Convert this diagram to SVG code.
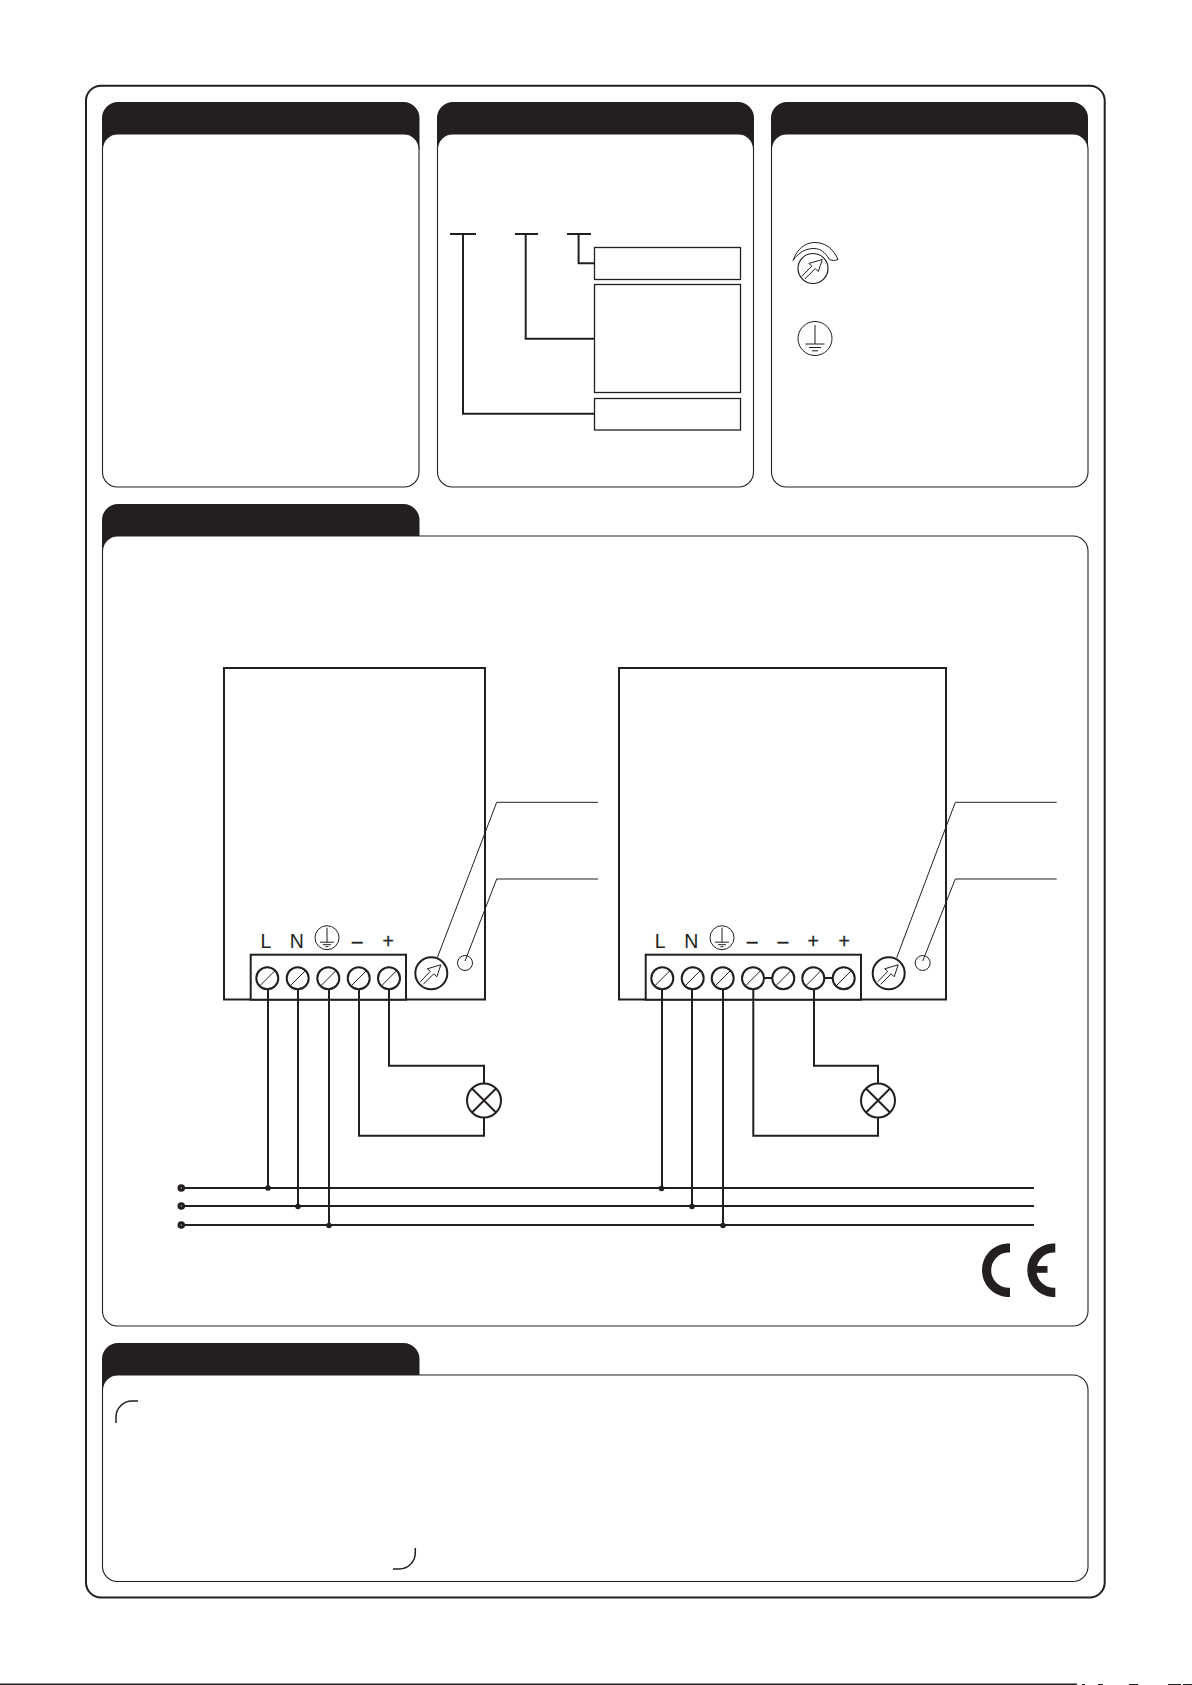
<svg xmlns="http://www.w3.org/2000/svg" xmlns:xlink="http://www.w3.org/1999/xlink" width="1192" height="1685" viewBox="0 0 1192 1685">
<style>
.ink{fill:#231f20}
.panel{fill:#fff;stroke:#231f20;stroke-width:1.100}
.w2{fill:none;stroke:#231f20;stroke-width:2}
.w1{fill:none;stroke:#231f20;stroke-width:1}
.w15{fill:none;stroke:#231f20;stroke-width:1.5}
.box{fill:#fff;stroke:#231f20;stroke-width:1.300}
.dev{fill:#fff;stroke:#231f20;stroke-width:2}
.lbl{font-family:"Liberation Sans",Arial,sans-serif;font-size:19.5px;fill:#231f20;text-anchor:middle}
.sign{stroke:#231f20;stroke-width:.3}
</style>
<defs>
<g id="screw"><circle r="11" class="dev"/><path d="M-7.500 7.500L7.500-7.500" class="w1"/></g>
<g id="arrow"><path d="M-11 8.500L-1-2L-4-4.500L9.500-8.500L5.500 3.500L2.500 .5L-8 11" class="w1"/></g>
<g id="dial"><circle r="16" class="dev"/><use xlink:href="#arrow" href="#arrow"/></g>
<g id="earth"><circle r="12" fill="#fff" stroke="#231f20" stroke-width="1"/><path d="M0-10V4.500M-7 4.500H7M-4 7H4M-1.500 9H1.500" class="w1"/></g>
<g id="lamp"><circle r="17" class="dev"/><path d="M-12-12L12 12M-12 12L12-12" class="w2"/></g>
</defs>
<g id="frame"><rect x="86" y="85.700" width="1018.700" height="1511.800" rx="15" fill="#fff" stroke="#231f20" stroke-width="2"/></g>
<g id="panel-1"><path d="M102 150V118a16 16 0 0 1 16-16H403.500a16 16 0 0 1 16 16V150Z" class="ink"/><rect x="102.500" y="134" width="316.500" height="353" rx="15" class="panel"/></g>
<g id="panel-2"><path d="M437 150V118a16 16 0 0 1 16-16H738a16 16 0 0 1 16 16V150Z" class="ink"/><rect x="437.500" y="134" width="316" height="353" rx="15" class="panel"/>
<rect id="box-a" x="594.500" y="247.500" width="146" height="32" class="box"/><rect id="box-b" x="594.500" y="284.500" width="146" height="108" class="box"/><rect id="box-c" x="594.500" y="398.500" width="146" height="31.500" class="box"/></g>
<g id="panel-3"><path d="M771 150V118a16 16 0 0 1 16-16H1072a16 16 0 0 1 16 16V150Z" class="ink"/><rect x="771.500" y="134" width="316.500" height="353" rx="15" class="panel"/>
<g id="knob-icon"><path d="M793 260.500C797 249 805 242.500 815 242.500C826 242.500 834 250 838 259.500C834.500 260.800 831.500 260.800 829 259C825 252 820 248.500 814 248.500C806 248.500 799 252 793 260.500Z" fill="#fff" stroke="#231f20" stroke-width="1"/><circle cx="813" cy="268.500" r="15" fill="#fff" stroke="#231f20" stroke-width="1.200"/><use xlink:href="#arrow" href="#arrow" x="812.800" y="268"/></g>
<g id="earth-icon"><circle cx="815" cy="338.500" r="17" fill="#fff" stroke="#231f20" stroke-width="1"/><path d="M815 325V344M805.500 344H824.500M809 347.500H821M812 350.800H818" class="w1"/></g></g>
<g id="panel-4"><path d="M102 552V520a16 16 0 0 1 16-16H403.500a16 16 0 0 1 16 16V552Z" class="ink"/><rect x="102.500" y="536" width="985.500" height="790" rx="15" class="panel"/></g>
<g id="panel-5"><path d="M102 1391V1359a16 16 0 0 1 16-16H403.500a16 16 0 0 1 16 16V1391Z" class="ink"/><rect x="102.500" y="1375" width="985.500" height="206.500" rx="15" class="panel"/>
<path d="M116 1423V1417a16 16 0 0 1 16-16H138" class="w15"/><path d="M415.300 1548V1553a16 16 0 0 1-16 16H393" class="w15"/></g>
<g id="connectors">
<path d="M450 234H476M463 234V413.700H594M515 234H538M525.700 234V338.700H594M567 234H591M578.600 234V263.300H594" class="w2"/>
<path d="M181 1188H1034M181 1206H1034M181 1225H1034" class="w2"/>
<path d="M268 985V1188M298 985V1206M329 985V1225M662 985V1188M692 985V1206M723 985V1225" class="w2"/>
<path d="M359 985V1135.700H484V1117M389 985V1065.700H484V1084" class="w2"/>
<path d="M753.300 985V1135.700H878V1117M814 985V1065.700H878V1084" class="w2"/>
</g>
<g id="device-1"><rect x="224" y="668" width="261" height="331.500" class="dev"/><rect x="250.700" y="954.700" width="155.300" height="45" class="dev"/>
<use href="#screw" x="267.300" y="978.300"/><use href="#screw" x="297.700" y="978.300"/><use href="#screw" x="328.300" y="978.300"/><use href="#screw" x="358.700" y="978.300"/><use href="#screw" x="389" y="978.300"/>
<use href="#dial" x="431.300" y="973.300"/><circle cx="465" cy="963" r="7.500" fill="#fff" stroke="#231f20" stroke-width="1"/>
<use href="#earth" x="327" y="937.700"/>
<text x="266" y="948" class="lbl">L</text><text x="296.700" y="948" class="lbl">N</text><text x="357.300" y="948" class="lbl sign">–</text><text x="388.300" y="948" class="lbl sign">+</text></g>
<g id="device-2"><rect x="619" y="668" width="327" height="331.500" class="dev"/><rect x="645.700" y="954.700" width="215.300" height="45" class="dev"/>
<path d="M753 978H783M813 978H844" class="w2"/>
<use href="#screw" x="662.300" y="978.300"/><use href="#screw" x="692.700" y="978.300"/><use href="#screw" x="722.700" y="978.300"/><use href="#screw" x="753" y="978.300"/><use href="#screw" x="783.300" y="978.300"/><use href="#screw" x="813.300" y="978.300"/><use href="#screw" x="843.700" y="978.300"/>
<use href="#dial" x="888.700" y="973.300"/><circle cx="922.700" cy="963" r="7.500" fill="#fff" stroke="#231f20" stroke-width="1"/>
<use href="#earth" x="722" y="937.700"/>
<text x="660.300" y="948" class="lbl">L</text><text x="691.300" y="948" class="lbl">N</text><text x="752.300" y="948" class="lbl sign">–</text><text x="783" y="948" class="lbl sign">–</text><text x="813.300" y="948" class="lbl sign">+</text><text x="844.300" y="948" class="lbl sign">+</text></g>
<g id="wires-over">
<path d="M268 989V1000M298 989V1000M329 989V1000M359 989V1000M389 989V1000M662 989V1000M692 989V1000M723 989V1000M753.300 989V1000M814 989V1000" class="w2"/>
<path d="M437.300 957.700L496.700 802.300H598M465 961L496.700 879H598M896.700 957.700L955.300 802.300H1056.700M922.700 961L955.300 879H1056.700" class="w1"/>
</g>
<g id="lamp-1"><use href="#lamp" x="484" y="1100.500"/></g>
<g id="lamp-2"><use href="#lamp" x="878" y="1100.500"/></g>
<g id="bus-terminals" class="ink"><circle cx="181.300" cy="1188" r="3.800"/><circle cx="181.300" cy="1206" r="3.800"/><circle cx="181.300" cy="1225" r="3.800"/>
<circle cx="181.300" cy="1188" r=".7" fill="#aaa"/><circle cx="181.300" cy="1206" r=".7" fill="#aaa"/><circle cx="181.300" cy="1225" r=".7" fill="#aaa"/>
<circle cx="268" cy="1188" r="2.800"/><circle cx="298" cy="1206.500" r="2.800"/><circle cx="329" cy="1225.500" r="2.800"/><circle cx="661.500" cy="1188.500" r="2.800"/><circle cx="692" cy="1206.500" r="2.800"/><circle cx="723" cy="1225.500" r="2.800"/></g>
<g id="ce-mark"><path d="M1010 1248H1007.300A22.200 22.200 0 0 0 1007.300 1292.300H1010" fill="none" stroke="#231f20" stroke-width="9.200"/><path d="M1055.300 1248H1052.600A22.200 22.200 0 0 0 1052.600 1292.300H1055.300" fill="none" stroke="#231f20" stroke-width="9.200"/><rect x="1033" y="1266" width="14.500" height="6.800" class="ink"/></g>
<g id="page-edge" class="ink"><rect x="0" y="1683.500" width="1077" height="1.500"/><rect x="1082" y="1684" width="3" height="1"/><rect x="1098" y="1684" width="5" height="1"/><rect x="1129" y="1684" width="9" height="1"/><rect x="1168" y="1684" width="13" height="1"/><rect x="1183" y="1684" width="9" height="1"/></g>
</svg>
